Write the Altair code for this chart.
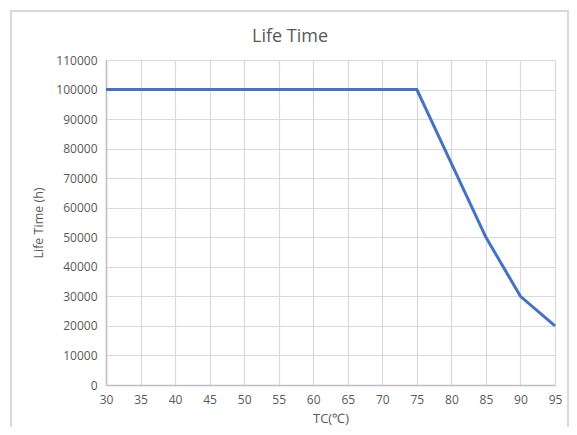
import altair as alt
import pandas as pd

tc = [30, 35, 40, 45, 50, 55, 60, 65, 70, 75, 80, 85, 90, 95]
life = [100000, 100000, 100000, 100000, 100000, 100000, 100000, 100000, 100000, 100000, 75000, 50000, 30000, 20000]
x_ticks = [30, 35, 40, 45, 50, 55, 60, 65, 70, 75, 80, 85, 90, 95]
y_ticks = [0, 10000, 20000, 30000, 40000, 50000, 60000, 70000, 80000, 90000, 100000, 110000]
chart_title = ["Life Time"]

df = pd.DataFrame({"TC": tc, "Life": life})
one = pd.DataFrame({"t": chart_title})

FONT = "Open Sans"
TXT = "#595959"
W, H = 449, 325

line = alt.Chart(df).mark_line(color="#4472C4", strokeWidth=3).encode(
    x=alt.X("TC:Q",
            scale=alt.Scale(domain=[30, 95], nice=False, zero=False),
            axis=alt.Axis(values=x_ticks, title="TC(℃)", grid=True, gridColor="#d9d9d9",
                          gridWidth=1.2, domainColor="#bfbfbf", domainWidth=1.5, ticks=False,
                          labelFlush=False, labelOverlap=False,
                          labelPadding=9, labelFontSize=12, labelColor=TXT, labelFont=FONT,
                          titleFont=FONT, titleFontSize=13, titleColor=TXT, titleFontWeight="normal",
                          titlePadding=7)),
    y=alt.Y("Life:Q",
            scale=alt.Scale(domain=[0, 110000], nice=False),
            axis=alt.Axis(values=y_ticks, title="Life Time (h)", grid=True, gridColor="#d9d9d9",
                          gridWidth=1.2, domainColor="#bfbfbf", domainWidth=1.5, ticks=False,
                          labelFlush=False, labelOverlap=False,
                          labelPadding=9, labelFontSize=12, labelColor=TXT, labelFont=FONT,
                          format="d", titleFont=FONT, titleFontSize=12.5, titleColor=TXT,
                          titleFontWeight="normal", titlePadding=10)),
)

border = alt.Chart(one).mark_rect(fill=None, stroke="#d9d9d9", strokeWidth=2, clip=False).encode(
    x=alt.value(-95), x2=alt.value(462), y=alt.value(-49), y2=alt.value(420)
)

title = alt.Chart(one).mark_text(font=FONT, fontSize=18, fontWeight="normal",
                                 color=TXT, align="center", baseline="middle").encode(
    text="t:N", x=alt.value(184), y=alt.value(-23)
)

chart = alt.layer(border, line, title).properties(
    width=W, height=H,
    autosize=alt.AutoSizeParams(type="none"),
    padding={"left": 98, "top": 52, "right": 14, "bottom": 42},
).configure_view(stroke=None)

chart.save("out.html", embed_options={"renderer": "svg", "actions": False})
